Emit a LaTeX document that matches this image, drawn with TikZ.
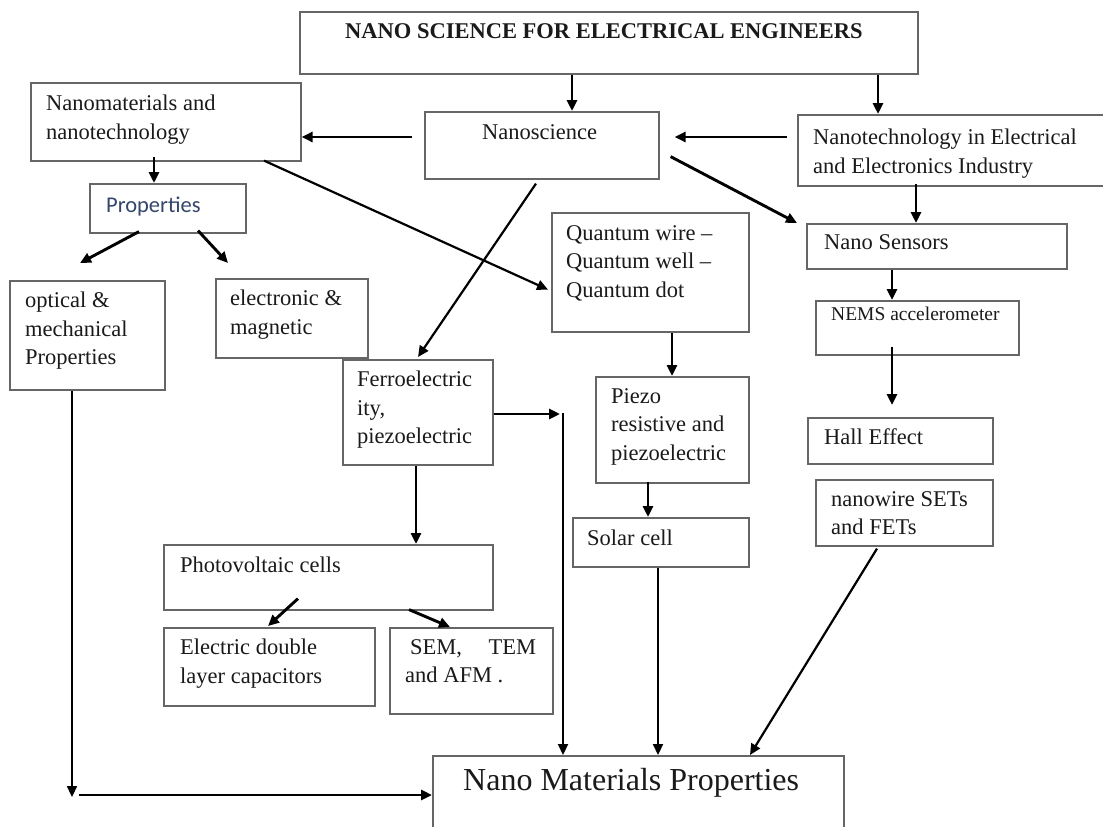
\documentclass[tikz,border=0pt]{standalone}
\usepackage{fontspec}
\setmainfont{Liberation Serif}
\newfontfamily\calibrilike{Carlito}
\usetikzlibrary{arrows.meta,calc}
\definecolor{inkc}{HTML}{1A1A1A}
\definecolor{framec}{HTML}{666666}
\definecolor{propc}{HTML}{34466A}

\tikzset{
  box/.style={draw=framec, line width=1.6pt, fill=white, inner sep=0pt, anchor=north west},
  lbl/.style={inner sep=0pt, anchor=north west, align=left, text=inkc,
              font=\fontsize{22.5}{28.5}\selectfont},
  arr/.style={draw=black, line width=2.9pt, -{Triangle[length=11pt,width=10pt]}},
  thinarr/.style={arr, line width=2.2pt},
}
% \flowbox{name}{x}{y}{width}{height}
\newcommand\flowbox[5]{\node[box, minimum width=#4pt, minimum height=#5pt] (#1) at (#2,#3) {};}

\begin{document}
\begin{tikzpicture}[x=1pt, y=-1pt]
  \fill[white] (0,0) rectangle (1103,827);
  \useasboundingbox (0,0) rectangle (1103,827);

  % ---- boxes ----
  \flowbox{title}{299}{11}{618}{62}
  \flowbox{nmat}{30}{82}{270}{78}
  \flowbox{nsci}{424}{111}{234}{67}
  \flowbox{ntech}{797}{114}{313}{71}
  \flowbox{props}{89}{183}{156}{49}
  \flowbox{optical}{9}{280}{155}{109}
  \flowbox{elec}{215}{278}{152}{79}
  \flowbox{quant}{551}{212}{197}{119}
  \flowbox{sens}{806}{223}{260}{45}
  \flowbox{ferro}{342}{359}{150}{105}
  \flowbox{nems}{815}{300}{203}{54}
  \flowbox{piezo}{595}{376}{153}{106}
  \flowbox{hall}{807}{417}{185}{46}
  \flowbox{nwire}{815}{479}{177}{66}
  \flowbox{solar}{572}{517}{176}{49}
  \flowbox{pv}{163}{544}{329}{65}
  \flowbox{edlc}{163}{627}{211}{78}
  \flowbox{sem}{389}{627}{163}{86}
  \flowbox{nmp}{432}{755}{411}{100}

  % ---- labels ----
  \node[lbl, font=\fontsize{22.5}{28.5}\selectfont\bfseries] (title-t) at ($(title.north west)+(46,12)$)
       {NANO SCIENCE FOR ELECTRICAL ENGINEERS};
  \node[lbl] (nmat-t) at ($(nmat.north west)+(16,13)$) {Nanomaterials and\\nanotechnology};
  \node[lbl] (nsci-t) at ($(nsci.north west)+(58,13)$) {Nanoscience};
  \node[lbl] (ntech-t) at ($(ntech.north west)+(16,15)$)
       {Nanotechnology in Electrical\\and Electronics Industry};
  \node[lbl, text=propc, font=\fontsize{22.5}{28.5}\calibrilike] (props-t) at ($(props.north west)+(17,14)$) {Properties};
  \node[lbl] (optical-t) at ($(optical.north west)+(16,12)$) {optical \&\\mechanical\\Properties};
  \node[lbl] (elec-t) at ($(elec.north west)+(15,12)$) {electronic \&\\magnetic};
  \node[lbl] (quant-t) at ($(quant.north west)+(15,13)$) {Quantum wire --\\Quantum well --\\Quantum dot};
  \node[lbl] (sens-t) at ($(sens.north west)+(18,11)$) {Nano Sensors};
  \node[lbl] (ferro-t) at ($(ferro.north west)+(15,12)$) {Ferroelectric\\ity,\\piezoelectric};
  \node[lbl, font=\fontsize{19.5}{24}\selectfont] (nems-t) at ($(nems.north west)+(16,7)$) {NEMS accelerometer};
  \node[lbl] (piezo-t) at ($(piezo.north west)+(16,12)$) {Piezo\\resistive and\\piezoelectric};
  \node[lbl] (hall-t) at ($(hall.north west)+(17,11)$) {Hall Effect};
  \node[lbl] (nwire-t) at ($(nwire.north west)+(16,12)$) {nanowire SETs\\and FETs};
  \node[lbl] (solar-t) at ($(solar.north west)+(15,13)$) {Solar cell};
  \node[lbl] (pv-t) at ($(pv.north west)+(17,13)$) {Photovoltaic cells};
  \node[lbl] (edlc-t) at ($(edlc.north west)+(17,12)$) {Electric double\\layer capacitors};
  \node[lbl] (sem-t) at ($(sem.north west)+(16,12)$)
       {\makebox[131pt][s]{\hspace*{5pt}SEM,\hfill TEM}\\and AFM .};
  \node[inner sep=0pt, anchor=base west, text=inkc, font=\fontsize{32}{38}\selectfont]
       (nmp-t) at ($(nmp.north west)+(31,35)$) {Nano Materials Properties};

  % ---- connectors ----
  \draw[arr] ($(title.south west)+(273,0)$) -- ($(nsci.north west)+(148,0)$);
  \draw[arr] ($(title.south west)+(579,0)$) -- ($(ntech.north west)+(81,0)$);
  \draw[arr] ($(ntech.north west)+(-10,23)$) -- ($(nsci.north east)+(15,26)$);
  \draw[arr] ($(nsci.north west)+(-12,26)$) -- ($(nmat.north east)+(0,55)$);
  \draw[arr] ($(nmat.south west)+(124,-5)$) -- ($(props.north west)+(65,0)$);
  \draw[arr] ($(props.south west)+(50,-2)$) -- ($(optical.north west)+(71,-17)$);
  \draw[arr] ($(props.south west)+(109,-3)$) -- ($(elec.north west)+(13,-15)$);
  \draw[thinarr] ($(nmat.south west)+(234,-1)$) -- ($(quant.south west)+(-3,-43)$);
  \draw[thinarr] ($(nsci.south west)+(112,4)$) -- ($(ferro.north west)+(76,-2)$);
  \draw[arr] ($(nsci.south east)+(11,-23)$) -- ($(sens.north west)+(-9,0)$);
  \draw[arr] ($(ntech.south west)+(119,-3)$) -- ($(sens.north west)+(110,0)$);
  \draw[arr] ($(sens.south west)+(86,0)$) -- ($(nems.north west)+(77,0)$);
  \draw[arr] ($(nems.south west)+(77,-9)$) -- ($(hall.north west)+(85,-12)$);
  \draw[arr] ($(quant.south west)+(121,0)$) -- ($(piezo.north west)+(77,0)$);
  \draw[arr] ($(piezo.south west)+(53,-2)$) -- ($(solar.north west)+(76,0)$);
  \draw[arr] ($(ferro.south west)+(74,0)$) -- ($(pv.north west)+(253,0)$);
  \draw[arr] ($(pv.south west)+(135,-12)$) -- ($(edlc.north west)+(105,-1)$);
  \draw[arr] ($(pv.south west)+(246,-1)$) -- ($(sem.north west)+(61,0)$);

  % ferroelectric output: short arrow, then drop to the bottom box
  \coordinate (fc) at (563,414);
  \draw[arr, shorten >=3pt] (ferro.east |- fc) -- (fc);
  \draw[thinarr] ($(fc)+(0,-1)$) -- (nmp.north -| fc);

  % optical branch: down the left side, then across
  \coordinate (ob) at (72,797);
  \coordinate (oc) at (79,795);
  \draw[thinarr] ($(optical.south west)+(63,0)$) -- (ob);
  \draw[arr] (oc) -- (nmp.west |- oc);

  \draw[thinarr] ($(solar.south west)+(86,0)$) -- ($(nmp.north west)+(226,0)$);
  \draw[thinarr] ($(nwire.south west)+(62,2)$) -- ($(nmp.north west)+(318,0)$);
\end{tikzpicture}
\end{document}
